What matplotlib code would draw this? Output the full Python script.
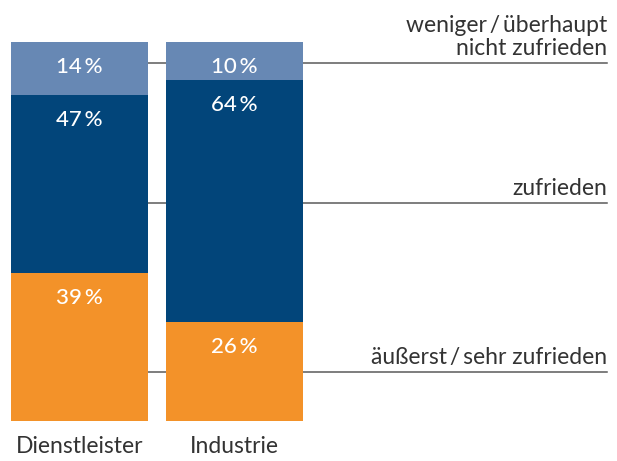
import matplotlib.pyplot as plt
import numpy as np

# Data
categories = ['Dienstleister', 'Industrie']
levels = ['äußerst\u2009/\u2009sehr zufrieden', 'zufrieden', 'weniger\u2009/\u2009überhaupt\nnicht zufrieden']
sehr_zufrieden = [39, 26]
zufrieden = [47, 64]
nicht_zufrieden = [14, 10]

colors = ['#f39229', '#02457a', '#6788b4']
line_levels = [12.9, 57.5, 94.5]  # where the guide lines sit (data units)

plt.rcParams['font.family'] = ['Lato', 'DejaVu Sans']

fig = plt.figure(figsize=(6.17, 4.61), dpi=100)
ax = fig.add_axes([0, 40 / 461, 1, 379 / 461])

x = np.arange(len(categories))
width = 137 / 155
series = [sehr_zufrieden, zufrieden, nicht_zufrieden]
bottom = np.zeros(len(categories))
for vals, col in zip(series, colors):
    vals = np.array(vals)
    ax.bar(x, vals, width=width, bottom=bottom, color=col, linewidth=0, zorder=2)
    for xi, b, v in zip(x, bottom, vals):
        ax.annotate(f'{v}\u2009%', (xi, b + v), xytext=(0, -18), textcoords='offset points',
                    ha='center', va='center', color='white', fontsize=16, fontweight='medium')
    bottom += vals

x_left = -79.5 / 155
x_right = x_left + 617 / 155
x_end = x_left + 607 / 155
ax.set_xlim(x_left, x_right)
ax.set_ylim(0, 100)

for lvl, label in zip(line_levels, levels):
    ax.plot([x[0] + width / 2, x[1] - width / 2], [lvl, lvl], color='#5a5a5a', lw=1.1, zorder=1)
    ax.plot([x[1] + width / 2, x_end], [lvl, lvl], color='#5a5a5a', lw=1.1, zorder=1)
    ax.annotate(label, (x_end, lvl), xytext=(0, 5.5), textcoords='offset points',
                ha='right', va='baseline', color='#333333', fontsize=16.5, linespacing=1.12)

ax.set_xticks(x)
ax.set_xticklabels(categories, fontsize=16.5, color='#333333')
ax.tick_params(axis='x', length=0, pad=11)
ax.set_yticks([])
for s in ax.spines.values():
    s.set_visible(False)

fig.savefig('out.png', dpi=100)
